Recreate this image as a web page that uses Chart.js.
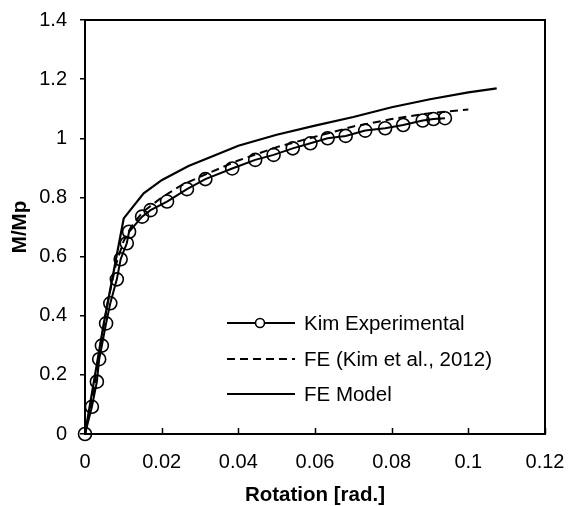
<!DOCTYPE html>
<html>
<head>
<meta charset="utf-8">
<script src="https://cdn.jsdelivr.net/npm/chart.js@4/dist/chart.umd.min.js"></script>
<style>
html,body{margin:0;padding:0;background:#fff;}
#wrap{width:569px;height:506px;position:relative;}
</style>
</head>
<body>
<div id="wrap"><canvas id="c" width="569" height="506"></canvas></div>
<script>
// ---- data ----
const kimExpX = [0, 0.0018, 0.0031, 0.0037, 0.0044, 0.0055, 0.0066, 0.0083, 0.0093, 0.0109, 0.0115, 0.0149, 0.0171, 0.0214, 0.0266, 0.0314, 0.0384, 0.0444, 0.0492, 0.0542, 0.0588, 0.0633, 0.068, 0.0731, 0.0783, 0.083, 0.0881, 0.0909, 0.0939];
const kimExpY = [0, 0.092, 0.177, 0.253, 0.299, 0.374, 0.442, 0.523, 0.591, 0.645, 0.684, 0.735, 0.757, 0.786, 0.828, 0.862, 0.898, 0.927, 0.944, 0.966, 0.983, 1.0, 1.008, 1.026, 1.034, 1.045, 1.06, 1.065, 1.068];

const feKimX = [0, 0.002, 0.004, 0.006, 0.008, 0.01, 0.012, 0.015, 0.02, 0.025, 0.03, 0.04, 0.05, 0.06, 0.07, 0.08, 0.09, 0.1];
const feKimY = [0, 0.12, 0.3, 0.45, 0.57, 0.65, 0.7, 0.75, 0.8, 0.84, 0.87, 0.925, 0.97, 1.005, 1.04, 1.065, 1.085, 1.097];

const feModelX = [0, 0.0049, 0.0101, 0.0153, 0.0201, 0.027, 0.0336, 0.04, 0.05, 0.06, 0.07, 0.08, 0.09, 0.1, 0.1074];
const feModelY = [0, 0.374, 0.729, 0.814, 0.859, 0.906, 0.941, 0.975, 1.012, 1.043, 1.072, 1.105, 1.132, 1.155, 1.169];

const seriesLabels = ['Kim Experimental', 'FE (Kim et al., 2012)', 'FE Model'];
const xTitle = 'Rotation [rad.]';
const yTitle = 'M/Mp';

const toPts = (xs, ys) => xs.map((x, i) => ({x: x, y: ys[i]}));
const fmt = v => String(parseFloat(Number(v).toFixed(3)));
const noPad = s => { s.paddingTop = 0; s.paddingBottom = 0; s.paddingLeft = 0; s.paddingRight = 0; };

const FONT = '"Liberation Sans", Arial, sans-serif';

const frame = {
  id: 'frame',
  afterDraw(chart) {
    const {ctx, chartArea: a, scales} = chart;
    ctx.save();
    ctx.strokeStyle = '#000';
    ctx.lineWidth = 2;
    ctx.beginPath();
    ctx.moveTo(a.left, a.top); ctx.lineTo(a.right, a.top); ctx.lineTo(a.right, a.bottom);
    ctx.stroke();
    // inward x ticks
    ctx.lineWidth = 1.5;
    scales.x.ticks.forEach(t => {
      const px = Math.round(scales.x.getPixelForValue(t.value)) + 0.5;
      ctx.beginPath(); ctx.moveTo(px, a.bottom); ctx.lineTo(px, a.bottom - 6); ctx.stroke();
    });
    // legend
    const rows = [323, 359, 394];
    const x0 = 227, x1 = 295, tx = 304;
    ctx.font = '20.5px ' + FONT;
    ctx.fillStyle = '#000';
    ctx.textBaseline = 'middle';
    chart.data.datasets.forEach((ds, i) => {
      const y = rows[i];
      ctx.lineWidth = 2;
      ctx.setLineDash(ds.borderDash || []);
      ctx.beginPath(); ctx.moveTo(x0, y); ctx.lineTo(x1, y); ctx.stroke();
      ctx.setLineDash([]);
      if (ds.pointRadius > 0) {
        ctx.lineWidth = 1.6;
        ctx.beginPath(); ctx.arc((x0 + x1) / 2 - 1, y, 4.5, 0, Math.PI * 2); ctx.fillStyle = '#fff'; ctx.fill(); ctx.stroke();
        ctx.fillStyle = '#000';
      }
      ctx.fillText(ds.label, tx, y + 1);
    });
    ctx.restore();
  }
};

new Chart(document.getElementById('c'), {
  type: 'scatter',
  data: {
    datasets: [
      {label: seriesLabels[0], data: toPts(kimExpX, kimExpY), showLine: true, borderColor: '#000', borderWidth: 2,
       pointRadius: 6.5, pointBorderWidth: 1.6, pointBackgroundColor: 'rgba(0,0,0,0)', pointBorderColor: '#000', tension: 0, clip: false},
      {label: seriesLabels[1], data: toPts(feKimX, feKimY), showLine: true, borderColor: '#000', borderWidth: 2,
       borderDash: [8, 5], pointRadius: 0, tension: 0, clip: false},
      {label: seriesLabels[2], data: toPts(feModelX, feModelY), showLine: true, borderColor: '#000', borderWidth: 2.2,
       pointRadius: 0, tension: 0, clip: false}
    ]
  },
  options: {
    responsive: false,
    animation: false,
    layout: {padding: {top: 20, right: 24, left: 0, bottom: 0}},
    plugins: {legend: {display: false}, tooltip: {enabled: false}},
    scales: {
      x: {
        type: 'linear', min: 0, max: 0.12,
        afterFit(s) { s.height = 72; noPad(s); },
        ticks: {stepSize: 0.02, color: '#000', padding: 16, font: {family: FONT, size: 20}, maxRotation: 0, callback: fmt},
        grid: {drawOnChartArea: false, drawTicks: false},
        border: {color: '#000', width: 2},
        title: {display: true, text: xTitle, color: '#000', font: {family: FONT, size: 20.5, weight: 'bold', lineHeight: 1}, padding: {top: 0, bottom: 0}}
      },
      y: {
        type: 'linear', min: 0, max: 1.4,
        afterFit(s) { s.width = 85; noPad(s); },
        ticks: {stepSize: 0.2, color: '#000', padding: 13, font: {family: FONT, size: 20}, callback: fmt},
        grid: {drawOnChartArea: false, drawTicks: true, tickLength: 5, color: '#000', lineWidth: 1.5},
        border: {color: '#000', width: 2},
        title: {display: true, text: yTitle, color: '#000', font: {family: FONT, size: 20.5, weight: 'bold'}, padding: {top: 8, bottom: 0}}
      }
    }
  },
  plugins: [frame]
});
</script>
</body>
</html>
